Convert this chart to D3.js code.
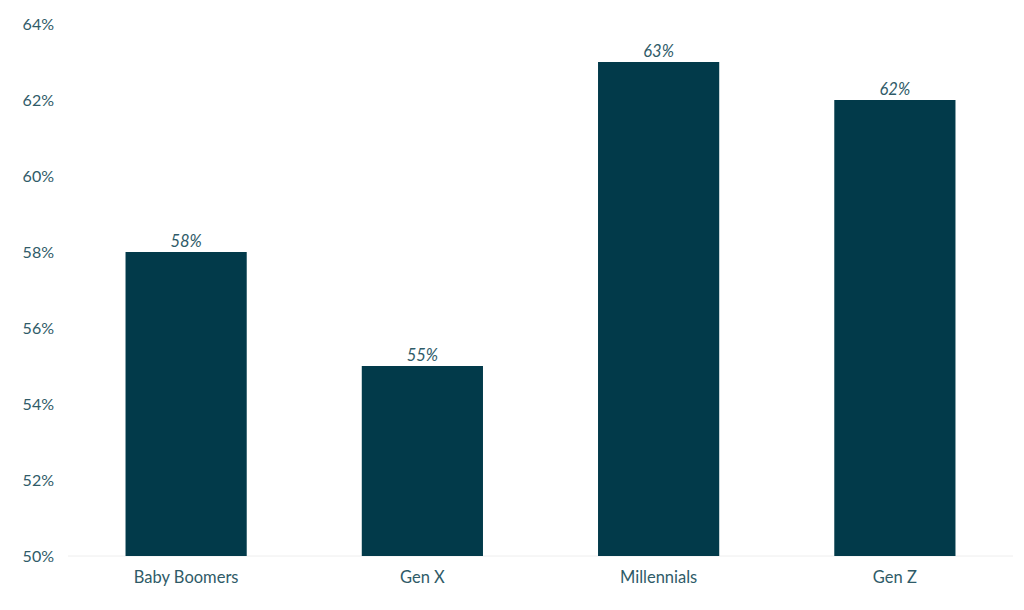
<!DOCTYPE html>
<html>
<head>
<meta charset="utf-8">
<script src="https://cdn.jsdelivr.net/npm/d3@7"></script>
<style>
  body { margin: 0; background: #fff; }
  text { font-family: Lato, "Open Sans", sans-serif; fill: #2f5b68; }
</style>
</head>
<body>
<div id="chart"></div>
<script>
// data
var categories = ["Baby Boomers", "Gen X", "Millennials", "Gen Z"];
var shares = [58, 55, 63, 62];
var yTicks = [50, 52, 54, 56, 58, 60, 62, 64];

var width = 1024, height = 610;
var margin = {top: 24, right: 11, bottom: 54, left: 68};

var svg = d3.select("#chart").append("svg")
  .attr("width", width)
  .attr("height", height);

var x = d3.scaleBand()
  .domain(categories)
  .range([margin.left, width - margin.right])
  .paddingInner(0.487)
  .paddingOuter(0.2435);

var y = d3.scaleLinear()
  .domain([50, 64])
  .range([height - margin.bottom, margin.top]);

// baseline
svg.append("line")
  .attr("x1", margin.left)
  .attr("x2", width - margin.right)
  .attr("y1", y(50))
  .attr("y2", y(50))
  .attr("stroke", "#eeeeee")
  .attr("stroke-width", 1);

// y axis labels
var yAxis = svg.append("g")
  .attr("transform", "translate(54,0)")
  .call(d3.axisLeft(y).tickValues(yTicks).tickSize(0).tickPadding(0)
    .tickFormat(function(d) { return d + "%"; }));
yAxis.select(".domain").remove();
yAxis.selectAll("text")
  .style("font-size", "16px")
  .attr("fill", "#2f5b68");

// x axis labels
var xAxis = svg.append("g")
  .attr("transform", "translate(0," + y(50) + ")")
  .call(d3.axisBottom(x).tickSize(0).tickPadding(15));
xAxis.select(".domain").remove();
xAxis.selectAll("text")
  .style("font-size", "16.5px")
  .attr("fill", "#2f5b68");

// bars
var rows = categories.map(function(c, i) { return {cat: c, val: shares[i]}; });

svg.selectAll("rect.bar")
  .data(rows)
  .enter()
  .append("rect")
    .attr("class", "bar")
    .attr("x", function(d) { return x(d.cat); })
    .attr("y", function(d) { return y(d.val); })
    .attr("width", x.bandwidth())
    .attr("height", function(d) { return y(50) - y(d.val); })
    .attr("fill", "#023a4a");

// value labels
svg.selectAll("text.val")
  .data(rows)
  .enter()
  .append("text")
    .attr("class", "val")
    .attr("x", function(d) { return x(d.cat) + x.bandwidth() / 2; })
    .attr("y", function(d) { return y(d.val) - 5; })
    .attr("text-anchor", "middle")
    .style("font-size", "16.5px")
    .style("font-style", "italic")
    .text(function(d) { return d.val + "%"; });
</script>
</body>
</html>
